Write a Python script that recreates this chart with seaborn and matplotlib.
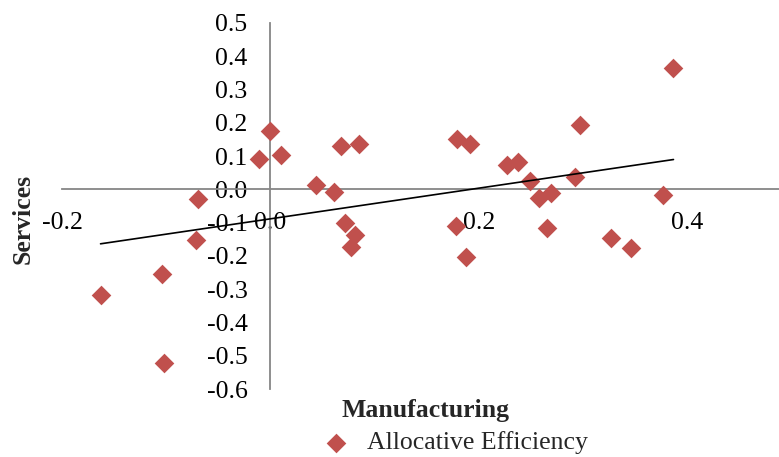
import matplotlib
matplotlib.use("Agg")
import matplotlib.pyplot as plt
import matplotlib.ticker as mticker
import pandas as pd
import seaborn as sns

# Allocative efficiency by country: manufacturing vs services
manufacturing = [0.000, -0.011, 0.010, 0.068, 0.085, 0.0435, 0.061, 0.072, 0.081, 0.077,
                 0.179, 0.192, 0.227, 0.238, 0.249, 0.292, 0.297, 0.258, 0.269, 0.1786,
                 0.2656, 0.188, 0.387, 0.377, 0.327, 0.346,
                 -0.0694, -0.0713, -0.104, -0.163, -0.1024]
services = [0.176, 0.091, 0.103, 0.130, 0.136, 0.014, -0.008, -0.102, -0.137, -0.172,
            0.151, 0.136, 0.073, 0.081, 0.026, 0.036, 0.193, -0.027, -0.010, -0.110,
            -0.117, -0.204, 0.363, -0.017, -0.147, -0.177,
            -0.029, -0.152, -0.254, -0.317, -0.520]

x_ticks = [-0.2, 0.0, 0.2, 0.4]
y_ticks = [-0.6, -0.5, -0.4, -0.3, -0.2, -0.1, 0.0, 0.1, 0.2, 0.3, 0.4, 0.5]
series_name = "Allocative Efficiency"

df = pd.DataFrame({"Manufacturing": manufacturing, "Services": services})

sns.set_style("white")
plt.rcParams["font.family"] = ["Liberation Serif", "DejaVu Serif"]
plt.rcParams["axes.unicode_minus"] = False

W, H = 779, 457
fig = plt.figure(figsize=(W / 100, H / 100), dpi=100)

# plot area in pixels
left_px, right_px, top_px, bottom_px = 62, 779, 22.7, 389.3
ax = fig.add_axes([left_px / W, 1 - bottom_px / H,
                   (right_px - left_px) / W, (bottom_px - top_px) / H])

red = "#C0504D"
sns.scatterplot(data=df, x="Manufacturing", y="Services", marker="D", s=100,
                color=red, linewidth=0, ax=ax, label=series_name, zorder=3)
sns.regplot(data=df, x="Manufacturing", y="Services", scatter=False, ci=None,
            truncate=True, color="black", line_kws={"linewidth": 1.2, "zorder": 4},
            ax=ax)

# x axis runs from -0.2 to the right edge of the figure
x_span = (right_px - left_px) / 1041.7
ax.set_xlim(-0.2, -0.2 + x_span)
ax.set_ylim(-0.6, 0.5)

ax.set_xticks(x_ticks)
ax.set_yticks(y_ticks)
ax.xaxis.set_major_formatter(mticker.FormatStrFormatter("%.1f"))
ax.yaxis.set_major_formatter(mticker.FormatStrFormatter("%.1f"))

axis_grey = "#868686"
for side in ("top", "right"):
    ax.spines[side].set_visible(False)
ax.spines["left"].set_position(("data", 0))
ax.spines["bottom"].set_position(("data", 0))
for side in ("left", "bottom"):
    ax.spines[side].set_color(axis_grey)
    ax.spines[side].set_linewidth(1.3)

ax.tick_params(axis="both", which="major", direction="out", length=5, width=1.3,
               color=axis_grey, labelsize=18.5, labelcolor="black")
ax.tick_params(axis="y", pad=11.5)
ax.tick_params(axis="x", pad=11)
ax.grid(False)

ax.set_xlabel("")
ax.set_ylabel("")
fig.text(426 / W, 1 - 410 / H, "Manufacturing", ha="center", va="center",
         fontsize=18.5, fontweight="bold")
fig.text(23 / W, 1 - 219 / H, "Services", ha="center", va="center",
         rotation=90, fontsize=18.5, fontweight="bold")

ax.legend(loc="center left", bbox_to_anchor=(310 / W, 1 - 443 / H),
          bbox_transform=fig.transFigure, frameon=False, fontsize=18.5,
          handletextpad=0.2, borderpad=0, borderaxespad=0, markerscale=1.0)

fig.savefig("out.png", dpi=100)
